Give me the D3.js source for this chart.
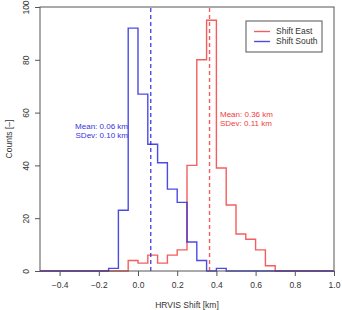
<!DOCTYPE html>
<html>
<head>
<meta charset="utf-8">
<script src="https://cdn.jsdelivr.net/npm/d3@7"></script>
<style>
  body { margin: 0; background: #fff; }
  svg { display: block; font-family: "Liberation Sans", Arial, sans-serif; }
</style>
</head>
<body>
<svg id="chart" width="342" height="310"></svg>
<script>
// bin edges (lower edge of each 0.05 km bin)
const binStarts = [-0.15, -0.10, -0.05, 0.00, 0.05, 0.10, 0.15, 0.20, 0.25, 0.30, 0.35, 0.40, 0.45, 0.50, 0.55, 0.60, 0.65];
const binWidth = 0.05;
const eastCounts  = [0, 0, 4, 3, 6, 3, 6, 8, 40, 80, 95, 39, 25, 14, 12, 8, 2];
const southCounts = [1, 23, 92, 67, 48, 41, 31, 26, 11, 4, 0, 1, 0, 0, 0, 0, 0];
const xTicks = [-0.4, -0.2, 0.0, 0.2, 0.4, 0.6, 0.8, 1.0];
const yTicks = [0, 20, 40, 60, 80, 100];
const means = [0.365, 0.065];
const meanLabels = [["Mean: 0.36 km", "SDev: 0.11 km"], ["Mean: 0.06 km", "SDev: 0.10 km"]];
const seriesNames = ["Shift East", "Shift South"];

const colors = ["rgba(240,40,40,0.75)", "rgba(30,30,220,0.8)"];
const textColors = ["#f03c3c", "#3434e0"];

const svg = d3.select("#chart");
const margin = {left: 40, right: 8, top: 7, bottom: 39};
const W = 342, H = 310;
const fs = "8.5px";

const x = d3.scaleLinear().domain([-0.5, 1.0]).range([margin.left, W - margin.right]);
const y = d3.scaleLinear().domain([0, 100]).range([H - margin.bottom, margin.top]);

// step outline of a histogram, running along 0 over the whole x range
function histPath(counts) {
    const pts = [[-0.5, 0]];
    binStarts.forEach((b, i) => {
        const prev = pts[pts.length - 1][1];
        pts.push([b, prev]);
        pts.push([b, counts[i]]);
        pts.push([b + binWidth, counts[i]]);
    });
    const last = pts[pts.length - 1];
    pts.push([last[0], 0]);
    pts.push([1.0, 0]);
    return d3.line().x(d => x(d[0])).y(d => y(d[1]))(pts);
}

[eastCounts, southCounts].forEach((c, i) => {
    svg.append("path")
        .attr("d", histPath(c))
        .attr("fill", "none")
        .attr("stroke", colors[i])
        .attr("stroke-width", 1.4);
});

// mean lines
means.forEach((m, i) => {
    svg.append("line")
        .attr("x1", x(m)).attr("x2", x(m))
        .attr("y1", y(0)).attr("y2", y(100))
        .attr("stroke", colors[i])
        .attr("stroke-width", 1.4)
        .attr("stroke-dasharray", "4,3");
});

// mean / sdev labels
const lbl = svg.append("g").style("font-size", "8px");
lbl.selectAll("text.east")
    .data(meanLabels[0]).enter().append("text")
    .attr("x", 220).attr("y", (d, i) => 117 + i * 8.5)
    .attr("fill", textColors[0]).text(d => d);
lbl.selectAll("text.south")
    .data(meanLabels[1]).enter().append("text")
    .attr("x", 128).attr("y", (d, i) => 129 + i * 8.5)
    .attr("text-anchor", "end")
    .attr("fill", textColors[1]).text(d => d);

// frame
svg.append("rect")
    .attr("x", margin.left).attr("y", margin.top)
    .attr("width", W - margin.left - margin.right)
    .attr("height", H - margin.top - margin.bottom)
    .attr("fill", "none").attr("stroke", "#555").attr("stroke-width", 1);

// x axis
const xAxis = svg.append("g")
    .attr("transform", `translate(0,${y(0)})`)
    .call(d3.axisBottom(x).tickValues(xTicks).tickSize(5).tickPadding(6));
xAxis.select(".domain").remove();
xAxis.selectAll(".tick line").attr("stroke", "#555");
xAxis.selectAll("text").style("font-size", fs).attr("fill", "#333")
    .text(d => d3.format(".1f")(d).replace("-", "\u2212"));

// y axis
const yAxis = svg.append("g")
    .attr("transform", `translate(${margin.left},0)`)
    .call(d3.axisLeft(y).tickValues(yTicks).tickSize(5).tickPadding(0));
yAxis.select(".domain").remove();
yAxis.selectAll(".tick line").attr("stroke", "#555");
yAxis.selectAll("text")
    .style("font-size", fs).attr("fill", "#333")
    .attr("text-anchor", "middle")
    .attr("transform", "translate(-14,0) rotate(-90)")
    .attr("x", 0).attr("dy", "0.32em");

// axis titles
svg.append("text")
    .attr("x", (margin.left + W - margin.right) / 2).attr("y", 308)
    .attr("text-anchor", "middle").style("font-size", fs).attr("fill", "#333")
    .text("HRVIS Shift [km]");
svg.append("text")
    .attr("transform", `translate(12,${(y(0) + y(100)) / 2}) rotate(-90)`)
    .attr("text-anchor", "middle").style("font-size", fs).attr("fill", "#333")
    .text("Counts [\u2013]");

// legend
const lg = svg.append("g").attr("transform", "translate(246,21)");
lg.append("rect").attr("width", 76).attr("height", 31)
    .attr("fill", "#fff").attr("stroke", "#555").attr("stroke-width", 1);
const items = lg.selectAll("g.item").data(seriesNames).enter().append("g")
    .attr("transform", (d, i) => `translate(0,${10.5 + i * 10})`);
items.append("line").attr("x1", 8).attr("x2", 24)
    .attr("stroke", (d, i) => colors[i]).attr("stroke-width", 1.4);
items.append("text").attr("x", 30).attr("dy", "0.32em")
    .style("font-size", fs).attr("fill", "#333").text(d => d);
</script>
</body>
</html>
